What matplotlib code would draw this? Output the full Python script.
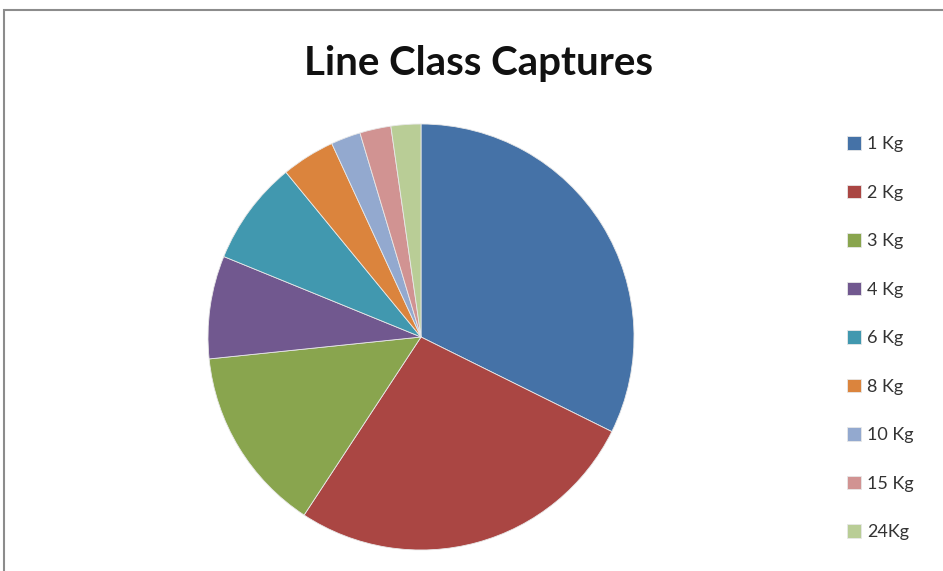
import matplotlib
matplotlib.use("Agg")
import matplotlib.pyplot as plt
from matplotlib.patches import Rectangle

labels = ["1 Kg", "2 Kg", "3 Kg", "4 Kg", "6 Kg", "8 Kg", "10 Kg", "15 Kg", "24Kg"]
shares = [32.3, 26.9, 14.1, 7.8, 7.9, 4.05, 2.25, 2.36, 2.26]
colors = ["#4572A7", "#AA4643", "#89A54E", "#71588F", "#4198AF",
          "#DB843D", "#93A9CF", "#D19392", "#B9CD96"]

plt.rcParams["font.family"] = ["Lato", "DejaVu Sans"]

fig = plt.figure(figsize=(9.43, 5.71), dpi=100)

# grey chart border (runs off the right/bottom edge like the screenshot)
fig.patches.append(Rectangle((4 / 943, -0.2), 1.2, (571 - 10) / 571 + 0.2,
                             transform=fig.transFigure, fill=False,
                             edgecolor="#8c8c8c", linewidth=1.5))

ax = fig.add_axes([208 / 943, 21 / 571, 426 / 943, 426 / 571])
wedges, _ = ax.pie(shares, colors=colors, startangle=90, counterclock=False,
                   radius=1, wedgeprops=dict(edgecolor="#e8e8e8", linewidth=0.6))
ax.set_xlim(-1, 1)
ax.set_ylim(-1, 1)
ax.set_aspect("equal")

fig.text(479 / 943, 1 - 64 / 571, "Line Class Captures", ha="center", va="center",
         fontsize=29, fontweight="bold", color="#111111")

fig.legend(wedges, labels, loc="upper left", bbox_to_anchor=(831 / 943, 1 - 120 / 571),
           frameon=False, fontsize=13, handlelength=0.75, handleheight=0.75,
           handletextpad=0.35, labelspacing=1.8, labelcolor="#333333")

fig.savefig("out.png", dpi=100)
